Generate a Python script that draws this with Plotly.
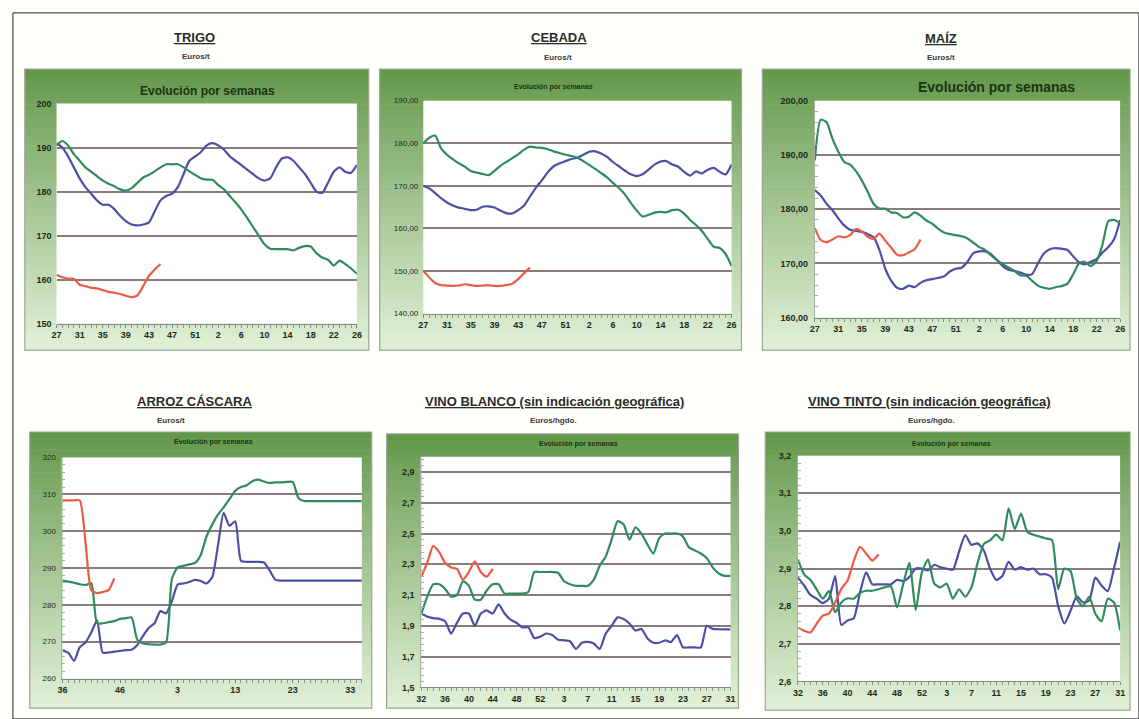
import plotly.graph_objects as go

W, H = 1139, 719

# ---------------- DATA ----------------
trigo_weeks = list(range(27, 54)) + list(range(1, 27))
trigo_ticks = [27, 31, 35, 39, 43, 47, 51, 2, 6, 10, 14, 18, 22, 26]
trigo_blue = [191, 190, 188, 185.5, 183, 181, 179.5, 178, 177, 177, 176, 174.5, 173.3, 172.5, 172.3,
              172.5, 173, 175.5, 178, 179, 179.5, 181, 184, 187, 188, 189, 190.5, 191, 190.5, 189.5,
              188, 187, 186, 185, 184, 183, 182.5, 183, 185.5, 187.5, 187.8, 187, 185.5, 184, 182,
              180, 179.7, 182, 184.5, 185.5, 184.5, 184.3, 186]
trigo_green = [190.5, 191.5, 190.5, 188.5, 187, 185.5, 184.5, 183.5, 182.5, 181.8, 181.2, 180.5, 180.2,
               180.8, 182, 183.2, 183.8, 184.6, 185.5, 186.2, 186.2, 186.2, 185.5, 184.6, 183.8, 183,
               182.7, 182.7, 181.5, 180.5, 179, 177.5, 175.9, 174, 172, 170, 168, 167, 166.9, 166.9,
               166.9, 166.6, 167.2, 167.6, 167.5, 166, 165, 164.5, 163.2, 164.3, 163.5, 162.5, 161.3]
trigo_red = [161.1, 160.5, 160.2, 160.2, 158.8, 158.5, 158.1, 158, 157.6, 157.2, 157, 156.7, 156.3,
             156, 156.4, 158.5, 160.8, 162.3, 163.5]

cebada_weeks = list(range(27, 54)) + list(range(1, 27))
cebada_ticks = [27, 31, 35, 39, 43, 47, 51, 2, 6, 10, 14, 18, 22, 26]
cebada_blue = [170, 169.4, 168.3, 167.1, 166.1, 165.4, 164.9, 164.6, 164.3, 164.4, 165.1, 165.2, 164.9,
               164.2, 163.6, 163.5, 164.3, 165.4, 167.5, 169.6, 171.3, 173.2, 174.6, 175.3, 175.8,
               176.3, 176.6, 177.3, 178, 178.1, 177.6, 176.8, 175.6, 174.6, 173.6, 172.7, 172.3, 172.7,
               173.8, 175, 175.7, 175.8, 175, 174.5, 173.3, 172.4, 173.4, 172.9, 173.8, 174.2, 173.3,
               172.7, 175]
cebada_green = [180, 181.3, 181.8, 178.8, 177.3, 176.2, 175.3, 174.5, 173.5, 173.1, 172.8, 172.5, 173.5,
                174.7, 175.6, 176.5, 177.4, 178.5, 179.2, 179, 178.9, 178.6, 178.1, 177.7, 177.3, 177,
                176.6, 175.8, 174.9, 174, 173, 172, 170.7, 169.5, 168, 166, 164.2, 162.8, 163.2, 163.7,
                163.9, 163.8, 164.3, 164.4, 163.5, 162, 160.8, 159.4, 157.5, 155.7, 155.4, 154, 151.2]
cebada_red = [150, 148.5, 147.2, 146.7, 146.6, 146.5, 146.6, 146.9, 146.7, 146.5, 146.6, 146.7, 146.5,
              146.5, 146.7, 147, 148.1, 149.5, 150.8]

maiz_weeks = list(range(27, 54)) + list(range(1, 27))
maiz_ticks = [27, 31, 35, 39, 43, 47, 51, 2, 6, 10, 14, 18, 22, 26]
maiz_blue = [183.5, 182.5, 181, 179.8, 178.3, 177, 176.2, 176, 175.8, 175.4, 174.8, 172.5, 169, 166.8,
             165.5, 165.3, 165.9, 165.6, 166.4, 166.9, 167.1, 167.3, 167.6, 168.5, 169, 169.2, 170.3,
             171.9, 172.2, 172.2, 171.7, 170.6, 169.5, 168.8, 168.6, 168.3, 167.9, 168, 170, 171.8,
             172.6, 172.8, 172.7, 172.5, 171.3, 170.2, 169.8, 170.3, 170.8, 172, 173, 174.5, 178]
maiz_green = [189, 196.5, 196, 193, 190.6, 188.7, 188.2, 187, 185.3, 183.2, 181, 180.1, 180.1, 179.4,
              179.3, 178.5, 178.6, 179.4, 178.8, 177.9, 177.3, 176.4, 175.7, 175.4, 175.2, 175, 174.6,
              173.8, 173, 172.5, 171.5, 170.6, 169.9, 169.2, 168.6, 167.8, 167.7, 166.8, 165.9, 165.5,
              165.3, 165.6, 165.8, 166.2, 168, 170, 170.3, 169.5, 170.4, 173.5, 177.8, 178, 177.4]
maiz_red = [176.5, 174.3, 173.9, 174.4, 175, 174.8, 175.2, 176.3, 175.9, 174.9, 174.5, 175.5, 174.2,
            172.9, 171.6, 171.5, 172, 172.6, 174.4]

arroz_weeks = list(range(36, 54)) + list(range(1, 36))
arroz_ticks = [36, 46, 3, 13, 23, 33]
arroz_blue = [267.6, 267, 264.8, 268.5, 269.8, 272.5, 275.8, 267, 267.1, 267.3, 267.5, 267.7, 267.8,
              269.1, 271.6, 273.8, 275, 278.3, 277.7, 281, 285.5, 285.8, 286.2, 286.8, 286.5, 285.8,
              287.5, 296, 305, 301.5, 302.7, 292, 291.7, 291.7, 291.7, 291.5, 289.3, 286.8, 286.6,
              286.6, 286.6, 286.6, 286.6, 286.6, 286.6, 286.6, 286.6, 286.6, 286.6, 286.6, 286.6,
              286.6, 286.6]
arroz_green = [286.6, 286.3, 286, 285.6, 285.4, 285.9, 275, 275, 275.3, 275.6, 276.2, 276.4, 276.6,
               270.5, 269.5, 269.3, 269.2, 269.2, 269.8, 287, 290.2, 290.6, 291, 291.4, 293.5, 298.5,
               301.8, 304.5, 306.5, 308.7, 311, 312, 312.5, 313.6, 314, 313.5, 313.1, 313.3, 313.3,
               313.4, 313.4, 309, 308.2, 308.2, 308.2, 308.2, 308.2, 308.2, 308.2, 308.2, 308.2,
               308.2, 308.2]
arroz_red = [308.4, 308.4, 308.4, 308.4, 297, 284, 283.2, 283.5, 284, 287.2]

vb_weeks = list(range(32, 54)) + list(range(1, 32))
vb_ticks = [32, 36, 40, 44, 48, 52, 3, 7, 11, 15, 19, 23, 27, 31]
vb_blue = [1.98, 1.96, 1.95, 1.945, 1.93, 1.85, 1.92, 1.98, 1.98, 1.9, 1.98, 2.0, 1.98, 2.04, 1.98,
           1.94, 1.92, 1.89, 1.89, 1.82, 1.83, 1.85, 1.84, 1.81, 1.806, 1.8, 1.75, 1.79, 1.796, 1.785,
           1.75, 1.85, 1.9, 1.955, 1.945, 1.915, 1.87, 1.88, 1.82, 1.79, 1.79, 1.806, 1.795, 1.84,
           1.76, 1.76, 1.76, 1.76, 1.9, 1.88, 1.878, 1.877, 1.877]
vb_green = [1.98, 2.09, 2.17, 2.17, 2.14, 2.09, 2.1, 2.19, 2.16, 2.07, 2.07, 2.13, 2.17, 2.17, 2.11,
            2.11, 2.11, 2.11, 2.12, 2.25, 2.25, 2.25, 2.25, 2.245, 2.19, 2.17, 2.16, 2.16, 2.16, 2.2,
            2.29, 2.35, 2.46, 2.58, 2.56, 2.46, 2.54, 2.5, 2.43, 2.37, 2.47, 2.5, 2.5, 2.5, 2.48, 2.41,
            2.39, 2.37, 2.34, 2.28, 2.24, 2.225, 2.225]
vb_red = [2.22, 2.31, 2.42, 2.38, 2.31, 2.28, 2.27, 2.2, 2.25, 2.32, 2.25, 2.22, 2.27]

vt_weeks = list(range(32, 54)) + list(range(1, 32))
vt_ticks = [32, 36, 40, 44, 48, 52, 3, 7, 11, 15, 19, 23, 27, 31]
vt_blue = [2.876, 2.855, 2.83, 2.82, 2.808, 2.82, 2.88, 2.75, 2.762, 2.768, 2.835, 2.89, 2.858, 2.858,
           2.858, 2.858, 2.87, 2.867, 2.878, 2.9, 2.9, 2.895, 2.91, 2.903, 2.9, 2.897, 2.945, 2.989,
           2.963, 2.967, 2.948, 2.9, 2.87, 2.88, 2.918, 2.897, 2.904, 2.897, 2.9, 2.885, 2.885, 2.876,
           2.8, 2.754, 2.788, 2.826, 2.81, 2.815, 2.876, 2.855, 2.84, 2.9, 2.971]
vt_green = [2.924, 2.884, 2.87, 2.845, 2.82, 2.84, 2.784, 2.81, 2.821, 2.82, 2.835, 2.841, 2.841, 2.845,
            2.85, 2.853, 2.797, 2.86, 2.915, 2.79, 2.89, 2.924, 2.86, 2.85, 2.86, 2.82, 2.845, 2.825,
            2.85, 2.915, 2.965, 2.975, 2.99, 2.975, 3.06, 3.005, 3.046, 2.998, 2.99, 2.985, 2.98, 2.976,
            2.845, 2.9, 2.893, 2.82, 2.8, 2.825, 2.78, 2.76, 2.82, 2.81, 2.736]
vt_red = [2.743, 2.735, 2.73, 2.753, 2.775, 2.78, 2.81, 2.846, 2.868, 2.92, 2.958, 2.94, 2.921, 2.938]

# ---------------- STYLE / LAYOUT ----------------
BLUE = "#4b4fa6"
GREEN = "#2f8a5c"
RED = "#ec5b43"
GRID = "#8a7c7c"
FONT = "Liberation Sans"

panels = [
    dict(title="TRIGO", unit="Euros/t", weeks=trigo_weeks, ticks=trigo_ticks,
         blue=trigo_blue, green=trigo_green, red=trigo_red,
         yr=[150, 200], dt=10, t0=150, fmt="d", yminor=False,
         plot=(52, 100, 355, 323), frame=(20, 65, 367, 350),
         tpos=(191, 33), upos=(193, 52), epos=(204, 87), esize=12, ysize=9, ybold=True, xsize=9),
    dict(title="CEBADA", unit="Euros/t", weeks=cebada_weeks, ticks=cebada_ticks,
         blue=cebada_blue, green=cebada_green, red=cebada_red,
         yr=[140, 190], dt=10, t0=140, fmt=".2f", yminor=False,
         plot=(422, 97, 733, 313), frame=(378, 65, 743, 350),
         tpos=(559, 33), upos=(558, 53), epos=(553, 83), esize=7, ysize=8, ybold=False, xsize=9),
    dict(title="MAÍZ", unit="Euros/t", weeks=maiz_weeks, ticks=maiz_ticks,
         blue=maiz_blue, green=maiz_green, red=maiz_red,
         yr=[160, 200], dt=10, t0=160, fmt=".2f", yminor=True,
         plot=(817, 97, 1125, 317), frame=(764, 65, 1135, 350),
         tpos=(944, 34), upos=(944, 53), epos=(1000, 83), esize=14, ysize=9, ybold=True, xsize=9),
    dict(title="ARROZ CÁSCARA", unit="Euros/t", weeks=arroz_weeks, ticks=arroz_ticks,
         blue=arroz_blue, green=arroz_green, red=arroz_red,
         yr=[260, 320], dt=10, t0=260, fmt="d", yminor=True,
         plot=(58, 459, 360, 683), frame=(25, 433, 370, 713),
         tpos=(191, 402), upos=(167, 421), epos=(210, 443), esize=7, ysize=8, ybold=False, xsize=9),
    dict(title="VINO BLANCO (sin indicación geográfica)", unit="Euros/hgdo.", weeks=vb_weeks,
         ticks=vb_ticks, blue=vb_blue, green=vb_green, red=vb_red,
         yr=[1.5, 3.0], dt=0.2, t0=1.5, fmt=".1f", yminor=True,
         plot=(420, 458, 732, 692), frame=(385, 435, 740, 713),
         tpos=(554, 402), upos=(553, 421), epos=(579, 445), esize=7, ysize=9, ybold=True, xsize=9),
    dict(title="VINO TINTO (sin indicación geográfica)", unit="Euros/hgdo.", weeks=vt_weeks,
         ticks=vt_ticks, blue=vt_blue, green=vt_green, red=vt_red,
         yr=[2.6, 3.2], dt=0.1, t0=2.6, fmt=".1f", yminor=True,
         plot=(800, 457, 1125, 686), frame=(767, 433, 1135, 715),
         tpos=(932, 402), upos=(935, 421), epos=(955, 445), esize=7, ysize=9, ybold=True, xsize=9),
]


def px(x):
    return x / W


def py(y):
    return 1 - y / H


def hexmix(c1, c2, t):
    a = [int(c1[i:i + 2], 16) for i in (1, 3, 5)]
    b = [int(c2[i:i + 2], 16) for i in (1, 3, 5)]
    return "#%02x%02x%02x" % tuple(round(a[k] + (b[k] - a[k]) * t) for k in range(3))


fig = go.Figure()
shapes = []
annotations = []

# outer page border
shapes.append(dict(type="rect", xref="paper", yref="paper", x0=px(8), x1=px(W + 5),
                   y0=py(H + 5), y1=py(8), line=dict(color="#222222", width=1),
                   fillcolor="rgba(0,0,0,0)", layer="below"))

NSTRIPE = 48
TOPC, BOTC = "#62974a", "#e2f1d8"

for i, p in enumerate(panels, start=1):
    xa = "x" if i == 1 else f"x{i}"
    ya = "y" if i == 1 else f"y{i}"
    fx0, fy0, fx1, fy1 = p["frame"]
    for s in range(NSTRIPE):
        t0 = s / NSTRIPE
        t1 = (s + 1) / NSTRIPE
        yy0 = fy0 + (fy1 - fy0) * t0
        yy1 = fy0 + (fy1 - fy0) * t1 + 0.6
        tc = min(1.0, t0 ** 0.9)
        shapes.append(dict(type="rect", xref="paper", yref="paper", x0=px(fx0), x1=px(fx1),
                           y0=py(yy1), y1=py(yy0), line=dict(width=0),
                           fillcolor=hexmix(TOPC, BOTC, tc), layer="below"))
    shapes.append(dict(type="rect", xref="paper", yref="paper", x0=px(fx0), x1=px(fx1),
                       y0=py(fy1), y1=py(fy0), line=dict(color="#9ca592", width=1.2),
                       fillcolor="rgba(0,0,0,0)", layer="below"))
    qx0, qy0, qx1, qy1 = p["plot"]
    shapes.append(dict(type="rect", xref="paper", yref="paper", x0=px(qx0), x1=px(qx1),
                       y0=py(qy1), y1=py(qy0), line=dict(width=0),
                       fillcolor="white", layer="below"))

    weeks = p["weeks"]
    pos = list(range(len(weeks)))
    for key, col in (("blue", BLUE), ("green", GREEN), ("red", RED)):
        vals = p[key]
        fig.add_trace(go.Scatter(x=pos[:len(vals)], y=vals, mode="lines",
                                 line=dict(color=col, width=2.2, shape="spline", smoothing=0.6),
                                 xaxis=xa, yaxis=ya, showlegend=False, hoverinfo="skip"))

    tickvals = [weeks.index(t) for t in p["ticks"]]
    xkey = "xaxis" if i == 1 else f"xaxis{i}"
    ykey = "yaxis" if i == 1 else f"yaxis{i}"
    yaxis = dict(domain=[py(qy1), py(qy0)], anchor=xa, range=p["yr"],
                 tick0=p["t0"], dtick=p["dt"], tickformat=p["fmt"],
                 showgrid=True, gridcolor=GRID, gridwidth=1.6, zeroline=False,
                 showline=False, ticks="", ticklabelstandoff=4,
                 tickfont=dict(family=FONT, size=p["ysize"], color="#1e2a1a",
                               weight="bold" if p["ybold"] else "normal"))
    if p["yminor"]:
        yaxis["showline"] = True
        yaxis["linecolor"] = "#a8b0a4"
        yaxis["linewidth"] = 1
        yaxis["minor"] = dict(dtick=p["dt"] / 5, tick0=p["t0"], ticks="inside", ticklen=3,
                              tickcolor="#a8b0a4", showgrid=False)
    fig.update_layout(**{
        xkey: dict(domain=[px(qx0), px(qx1)], anchor=ya, range=[0, len(weeks) - 1],
                   tickmode="array", tickvals=tickvals, ticktext=[str(t) for t in p["ticks"]],
                   showgrid=False, zeroline=False, showline=True, linecolor="#7f8a84", linewidth=1,
                   ticks="outside", ticklen=3, tickcolor="#7f8a84",
                   minor=dict(dtick=1, tick0=0, ticks="outside", ticklen=3, tickcolor="#8a9690"),
                   tickfont=dict(family=FONT, size=p["xsize"], color="#1e2a1a", weight="bold")),
        ykey: yaxis,
    })

    annotations.append(dict(x=px(p["tpos"][0]), y=py(p["tpos"][1]), xref="paper", yref="paper",
                            xanchor="center", yanchor="middle",
                            text=f"<u><b>{p['title']}</b></u>", showarrow=False,
                            font=dict(family=FONT, size=13, color="#2b2b2b")))
    annotations.append(dict(x=px(p["upos"][0]), y=py(p["upos"][1]), xref="paper", yref="paper",
                            xanchor="center", yanchor="middle",
                            text=f"<b>{p['unit']}</b>", showarrow=False,
                            font=dict(family=FONT, size=8, color="#3a3a3a")))
    annotations.append(dict(x=px(p["epos"][0]), y=py(p["epos"][1]), xref="paper", yref="paper",
                            xanchor="center", yanchor="middle",
                            text="<b>Evolución por semanas</b>", showarrow=False,
                            font=dict(family=FONT, size=p["esize"], color="#1c3312")))

fig.update_layout(width=W, height=H, margin=dict(l=0, r=0, t=0, b=0),
                  paper_bgcolor="#fffffb", plot_bgcolor="white",
                  separators=",.", shapes=shapes, annotations=annotations,
                  font=dict(family=FONT))

fig.write_html("out.html", config={"displayModeBar": False},
               post_script="document.body.style.margin='0px';document.body.style.overflow='hidden';")
